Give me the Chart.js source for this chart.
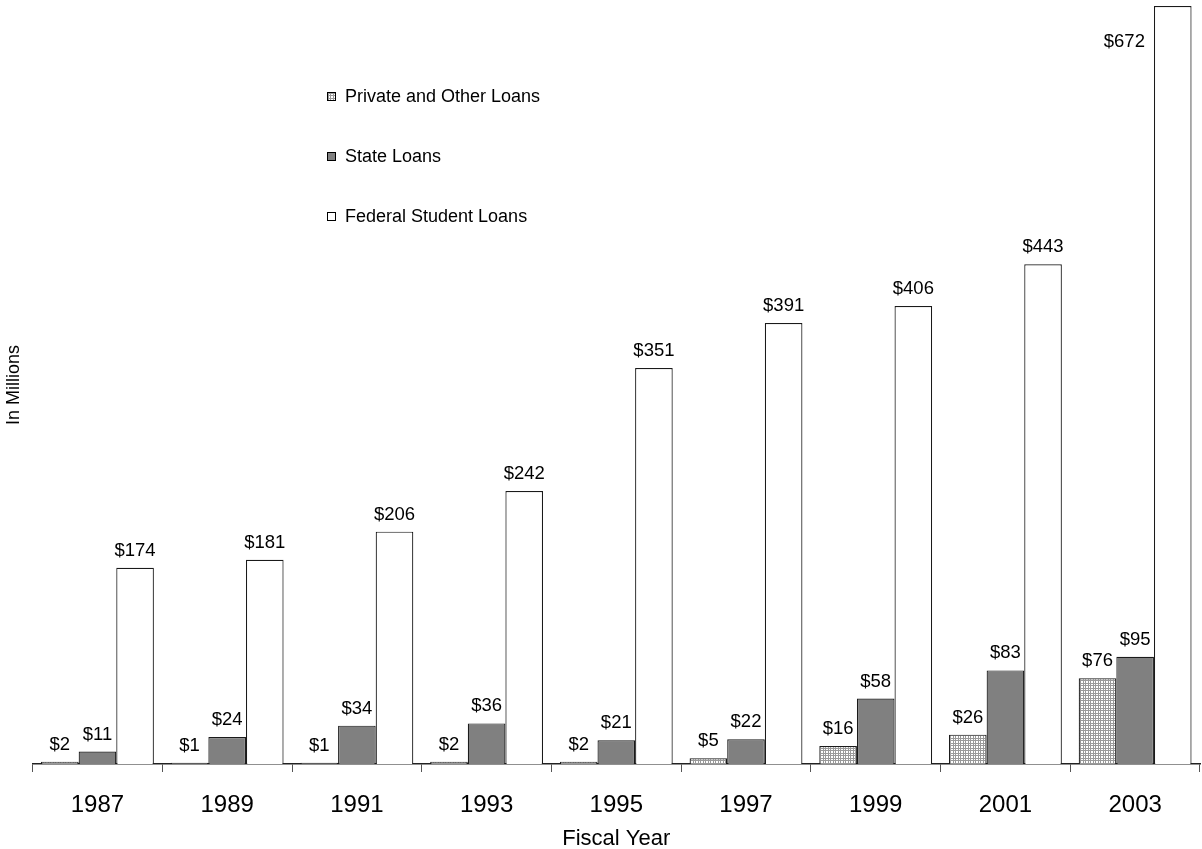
<!DOCTYPE html>
<html>
<head>
    <meta charset="utf-8" />
    <title>Student Loans</title>
    <script src="https://cdn.jsdelivr.net/npm/chart.js"></script>
    <style>
      body { margin: 0; background: #fff; }
      #chart { display: block; }
    </style>
</head>
<body>
    <canvas id="chart" width="1202" height="849"></canvas>
    <script>
        const years = ['1987', '1989', '1991', '1993', '1995', '1997', '1999', '2001', '2003'];
        const privateLoans = [2, 1, 1, 2, 2, 5, 16, 26, 76];
        const stateLoans = [11, 24, 34, 36, 21, 22, 58, 83, 95];
        const federalLoans = [174, 181, 206, 242, 351, 391, 406, 443, 672];
        const seriesNames = ['Private and Other Loans', 'State Loans', 'Federal Student Loans'];

        const FONT = 'Arial, "Liberation Sans", sans-serif';

        // fine gingham tile for the private loans fill
        function dottedFill(ctx) {
            const c = document.createElement('canvas');
            c.width = 5; c.height = 5;
            const g = c.getContext('2d');
            g.fillStyle = '#ffffff';
            g.fillRect(0, 0, 5, 5);
            g.fillStyle = '#9a9a9a';
            [0, 3].forEach(p => {
                g.fillRect(0, p, 5, 1);
                g.fillRect(p, 0, 1, 5);
            });
            return ctx.createPattern(c, 'repeat');
        }
        const canvas = document.getElementById('chart');
        const fills = [dottedFill(canvas.getContext('2d')), '#808080', '#ffffff'];

        const valueLabels = {
            id: 'valueLabels',
            afterDatasetsDraw(chart) {
                const ctx = chart.ctx;
                const area = chart.chartArea;
                ctx.save();
                ctx.font = '18.5px ' + FONT;
                ctx.fillStyle = '#000';
                chart.data.datasets.forEach((ds, i) => {
                    const meta = chart.getDatasetMeta(i);
                    meta.data.forEach((bar, j) => {
                        const txt = '$' + ds.data[j];
                        const y = bar.y - 12;
                        if (y - 14 < area.top) {
                            // no room above: put it beside the bar
                            ctx.textAlign = 'right';
                            ctx.textBaseline = 'middle';
                            ctx.fillText(txt, bar.x - bar.width / 2 - 9, bar.y + 36);
                        } else {
                            ctx.textAlign = 'center';
                            ctx.textBaseline = 'alphabetic';
                            ctx.fillText(txt, bar.x, y);
                        }
                    });
                });
                ctx.restore();
            }
        };

        const floatLegend = {
            id: 'floatLegend',
            afterDraw(chart) {
                const ctx = chart.ctx;
                const x = 327, ys = [96, 156, 216];
                ctx.save();
                ctx.font = '18px ' + FONT;
                ctx.textBaseline = 'middle';
                ctx.textAlign = 'left';
                chart.data.datasets.forEach((ds, i) => {
                    ctx.fillStyle = ds.backgroundColor;
                    ctx.fillRect(x, ys[i] - 4, 9, 9);
                    ctx.strokeStyle = '#000';
                    ctx.lineWidth = 1;
                    ctx.strokeRect(x + 0.5, ys[i] - 3.5, 8, 8);
                    ctx.fillStyle = '#000';
                    ctx.fillText(ds.label, x + 18, ys[i] + 1);
                });
                ctx.restore();
            }
        };

        const chartData = {
            labels: years,
            datasets: [privateLoans, stateLoans, federalLoans].map((vals, i) => ({
                label: seriesNames[i],
                data: vals,
                backgroundColor: fills[i],
                borderColor: '#1a1a1a',
                borderWidth: 1.2,
                categoryPercentage: 0.87,
                barPercentage: 1.0
            }))
        };

        const myChart = new Chart(canvas, {
            type: 'bar',
            data: chartData,
            plugins: [valueLabels, floatLegend],
            options: {
                responsive: false,
                devicePixelRatio: 1,
                animation: false,
                layout: { padding: { top: 6, right: 2, left: 0, bottom: 0 } },
                plugins: {
                    legend: { display: false },
                    tooltip: { enabled: false }
                },
                scales: {
                    x: {
                        grid: {
                            display: true,
                            drawOnChartArea: false,
                            drawTicks: true,
                            tickLength: 8,
                            color: '#555',
                            offset: true
                        },
                        border: { display: true, color: '#222', width: 1.5 },
                        ticks: {
                            color: '#000',
                            font: { family: FONT, size: 24, lineHeight: 1.0 },
                            padding: 21
                        },
                        title: {
                            display: true,
                            text: 'Fiscal Year',
                            color: '#000',
                            font: { family: FONT, size: 22, lineHeight: 1.0 },
                            padding: { top: -10, bottom: -1 }
                        }
                    },
                    y: {
                        min: 0,
                        max: 672,
                        ticks: { display: false },
                        grid: { display: false },
                        border: { display: false },
                        title: {
                            display: true,
                            text: 'In Millions',
                            color: '#000',
                            font: { family: FONT, size: 18 },
                            padding: { top: 3, bottom: 0 }
                        }
                    }
                }
            }
        });
    </script>
</body>
</html>
